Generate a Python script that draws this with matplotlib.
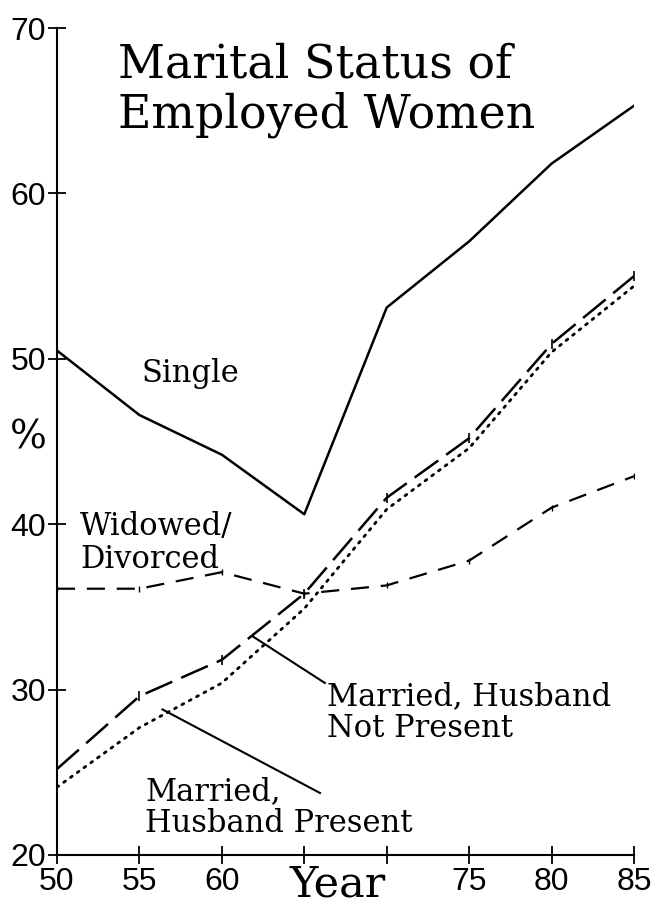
import matplotlib
matplotlib.use("Agg")
import matplotlib.pyplot as plt

years = [50, 55, 60, 65, 70, 75, 80, 85]
single = [50.5, 46.6, 44.2, 40.6, 53.1, 57.1, 61.8, 65.3]
not_present = [25.2, 29.6, 31.8, 35.8, 41.6, 45.2, 50.9, 55.0]
present = [24.1, 27.7, 30.4, 34.9, 40.9, 44.6, 50.4, 54.4]
widowed = [36.1, 36.1, 37.1, 35.8, 36.3, 37.8, 41.0, 42.9]

xticks = [50, 55, 60, 65, 70, 75, 80, 85]
xlabels = ["50", "55", "60", "", "", "75", "80", "85"]
yticks = [20, 30, 40, 50, 60, 70]

plt.rcParams['lines.scale_dashes'] = False
serif = "DejaVu Serif"

fig = plt.figure(figsize=(6.55, 9.09), dpi=100)
ax = fig.add_axes([57 / 655, 1 - 855 / 909, 577 / 655, 827 / 909])

ax.plot(years, single, color="black", lw=1.8)
ax.plot(years, not_present, color="black", lw=1.8, dashes=(21, 7),
        marker="|", ms=7, mew=1.2)
ax.plot(years, present, color="black", lw=2.0, dashes=(1.5, 4.5),
        dash_capstyle="round")
ax.plot(years, widowed, color="black", lw=1.6, dashes=(13, 8.5),
        marker="|", ms=4, mew=1)

ax.set_xlim(50, 85)
ax.set_ylim(20, 70)
ax.set_xticks(xticks)
ax.set_xticklabels(xlabels)
ax.set_yticks(yticks)
for s in ["top", "right"]:
    ax.spines[s].set_visible(False)
ax.spines["left"].set_linewidth(1.5)
ax.spines["bottom"].set_linewidth(1.5)
ax.tick_params(direction="inout", length=13, width=1.3, pad=2,
               labelsize=23, colors="black")
ax.tick_params(axis="y", pad=1.5)
for lab in ax.get_xticklabels() + ax.get_yticklabels():
    lab.set_family("Liberation Sans")

# title
ax.text(53.7, 67.0, "Marital Status of", family=serif, fontsize=33,
        va="baseline", ha="left")
ax.text(53.7, 64.0, "Employed Women", family=serif, fontsize=33,
        va="baseline", ha="left")

# axis labels
ax.text(67.0, 17.5, "Year", family=serif, fontsize=31,
        va="baseline", ha="center", clip_on=False)
ax.text(48.25, 45.2, "%", family=serif, fontsize=28,
        va="center", ha="center", clip_on=False)

# series labels
lab_kw = dict(family=serif, fontsize=22, va="baseline", ha="left")
ax.text(55.15, 48.6, "Single", **lab_kw)
ax.text(51.4, 39.35, "Widowed/", **lab_kw)
ax.text(51.4, 37.35, "Divorced", **lab_kw)
ax.text(66.4, 29.07, "Married, Husband", **lab_kw)
ax.text(66.4, 27.13, "Not Present", **lab_kw)
ax.text(55.35, 23.33, "Married,", **lab_kw)
ax.text(55.35, 21.39, "Husband Present", **lab_kw)

# leader lines
ax.plot([61.9, 66.25], [33.2, 30.4], color="black", lw=1.5)
ax.plot([56.4, 65.95], [28.8, 23.75], color="black", lw=1.5)

fig.savefig("out.png", dpi=100)
